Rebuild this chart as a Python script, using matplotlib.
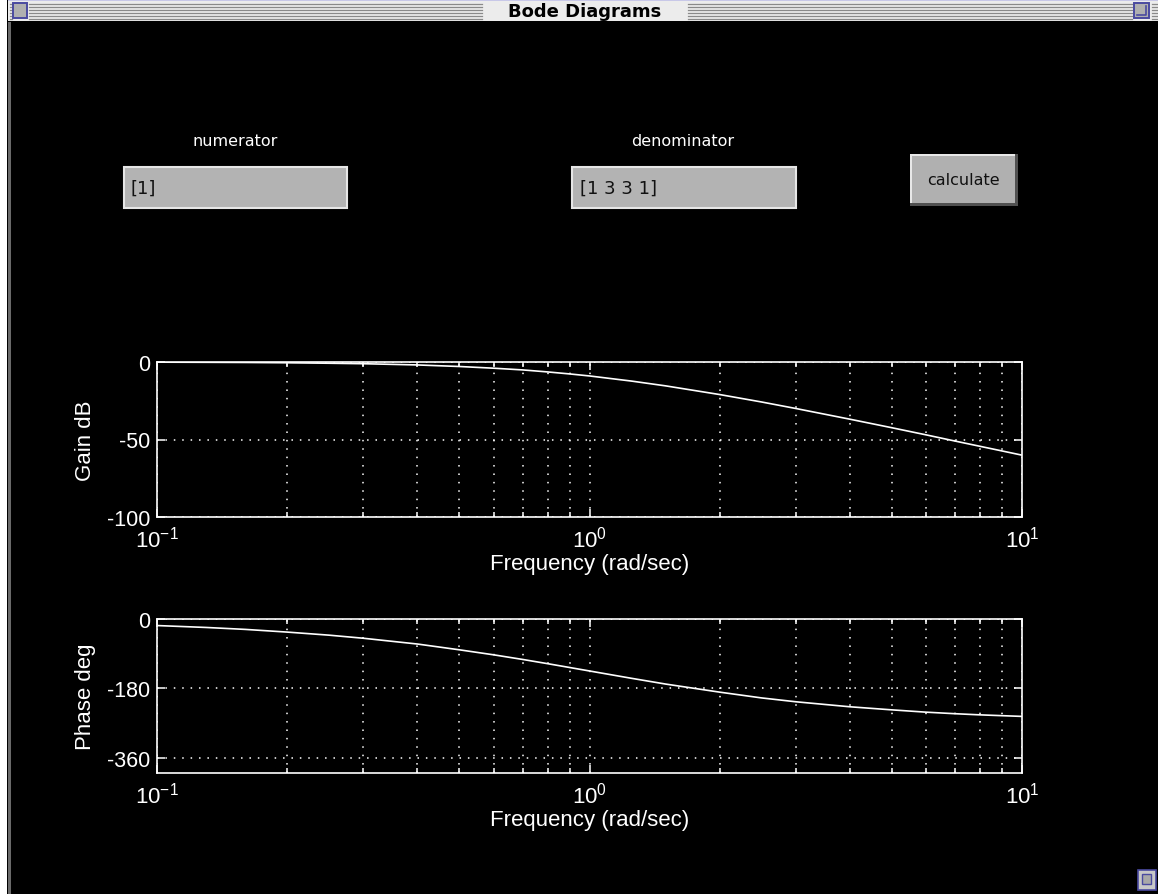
import numpy as np
import matplotlib
matplotlib.use("Agg")
import matplotlib.pyplot as plt
from matplotlib.patches import Rectangle
from matplotlib.ticker import LogLocator, NullFormatter, FixedLocator

plt.rcParams['font.family'] = ['Liberation Sans', 'DejaVu Sans']

# values
freq = [0.1, 0.13, 0.16, 0.2, 0.25, 0.3, 0.4, 0.5, 0.6, 0.7, 0.8, 0.9,
        1.0, 1.25, 1.5, 2.0, 2.5, 3.0, 4.0, 5.0, 6.0, 7.0, 8.0, 10.0]
gain_db = [-0.1, -0.2, -0.3, -0.5, -0.8, -1.1, -1.9, -2.9, -4.0, -5.1, -6.4, -7.7,
           -9.0, -12.3, -15.4, -21.0, -25.8, -30.0, -36.9, -42.4, -47.0, -51.0, -54.4, -60.1]
phase_deg = [-17, -22, -27, -34, -42, -50, -65, -80, -93, -105, -116, -126,
             -135, -154, -169, -190, -205, -215, -228, -236, -242, -246, -249, -253]

gain_ticks = [-100, -50, 0]
phase_ticks = [-360, -180, 0]

window_title = "Bode Diagrams"
num_label, num_value = "numerator", "[1]"
den_label, den_value = "denominator", "[1 3 3 1]"
button_text = "calculate"

W, H = 1158, 895
fig = plt.figure(figsize=(W / 100, H / 100), dpi=100)
fig.patch.set_facecolor('white')

# window chrome drawn in pixel coordinates
ui = fig.add_axes([0, 0, 1, 1], zorder=0)
ui.set_xlim(0, W)
ui.set_ylim(H, 0)
ui.axis('off')

def rect(x0, y0, x1, y1, fc, ec='none', lw=0, z=1):
    ui.add_patch(Rectangle((x0, y0), x1 - x0, y1 - y0, facecolor=fc,
                           edgecolor=ec, linewidth=lw, zorder=z))

rect(7, 0, W, H, 'black')
rect(8, 1, W, 22, '#ececec')
rect(8, 1, W, 2, '#c8c8e8')
rect(8, 23, 11, H, '#6a6a6a')
# title bar stripes
for sy in [4.5, 7.5, 10.5, 13.5, 16.5, 19.5]:
    for sx0, sx1 in [(10, 12), (29, 482), (688, 1132), (1152, W)]:
        ui.plot([sx0, sx1], [sy, sy], color='#8a8a8a', lw=0.9, zorder=2)
rect(13, 4, 27, 19, '#b0b0b0', '#4a4aa0', 1.4, z=3)
rect(1134, 4, 1149, 19, '#b0b0b0', '#4a4aa0', 1.4, z=3)
ui.plot([1137, 1146, 1146], [16, 16, 7], color='#4a4aa0', lw=1.2, zorder=4)
ui.text(585, 12, window_title, ha='center', va='center', fontsize=13,
        fontweight='bold', family='DejaVu Sans', color='black', zorder=3)

# grow box bottom right
rect(1138, 871, 1156, 891, '#c8c8c8', '#4a4aa0', 1.2, z=3)
rect(1142, 875, 1151, 885, '#a8a8a8', '#4a4aa0', 1.0, z=4)

# edit boxes and button
ui_font = 'DejaVu Sans'
ui.text(235, 141, num_label, ha='center', va='center', color='white',
        fontsize=11.5, family=ui_font)
ui.text(683, 141, den_label, ha='center', va='center', color='white',
        fontsize=11.5, family=ui_font)
rect(124, 168, 347, 209, '#b3b3b3', '#e6e6e6', 1.5)
rect(572, 168, 796, 209, '#b3b3b3', '#e6e6e6', 1.5)
ui.text(131, 189, num_value, ha='left', va='center', color='#111111',
        fontsize=13, family=ui_font)
ui.text(580, 189, den_value, ha='left', va='center', color='#111111',
        fontsize=13, family=ui_font)
rect(910, 155, 1018, 207, '#505050')
rect(910, 155, 1015, 204, '#e8e8e8')
rect(912, 157, 1015, 204, '#b0b0b0')
ui.text(963, 180, button_text, ha='center', va='center', color='#111111',
        fontsize=11.5, family=ui_font)


def px_axes(x0, y0, x1, y1):
    return fig.add_axes([x0 / W, 1 - y1 / H, (x1 - x0) / W, (y1 - y0) / H], zorder=2)


def style_bode(ax, yticks, ylabel):
    ax.set_facecolor('black')
    ax.set_xscale('log')
    ax.set_xlim(0.1, 10)
    ax.xaxis.set_major_locator(LogLocator(base=10, numticks=10))
    ax.xaxis.set_minor_locator(LogLocator(base=10, subs=np.arange(2, 10), numticks=10))
    ax.xaxis.set_minor_formatter(NullFormatter())
    ax.yaxis.set_major_locator(FixedLocator(yticks))
    ax.set_yticklabels([str(t) for t in yticks])
    for s in ax.spines.values():
        s.set_color('white')
        s.set_linewidth(1.2)
    ax.tick_params(which='both', direction='in', top=True, right=True,
                   colors='white', labelsize=16, width=1.1, pad=5)
    ax.tick_params(axis='x', which='both', pad=6)
    ax.tick_params(axis='y', which='both', labelsize=15.5)
    ax.tick_params(which='major', length=6)
    ax.tick_params(which='minor', length=3.5)
    ax.grid(True, which='both', axis='x', color='white', linestyle=(0, (1, 4.5)), linewidth=1.1)
    ax.grid(True, which='major', axis='y', color='white', linestyle=(0, (1, 4.5)), linewidth=1.1)
    ax.set_xlabel('Frequency (rad/sec)', color='white', fontsize=16, labelpad=1.5)
    ax.set_ylabel(ylabel, color='white', fontsize=16)
    ax.yaxis.set_label_coords(-0.07, 0.5)


ax1 = px_axes(157, 363, 1022, 518)
ax1.plot(freq, gain_db, color='white', lw=1.2)
ax1.set_ylim(-100, 0)
style_bode(ax1, gain_ticks, 'Gain dB')

ax2 = px_axes(157, 620, 1022, 774)
ax2.plot(freq, phase_deg, color='white', lw=1.2)
ax2.set_ylim(-400, 0)
style_bode(ax2, phase_ticks, 'Phase deg')

fig.savefig('out.png', dpi=100, facecolor=fig.get_facecolor())
